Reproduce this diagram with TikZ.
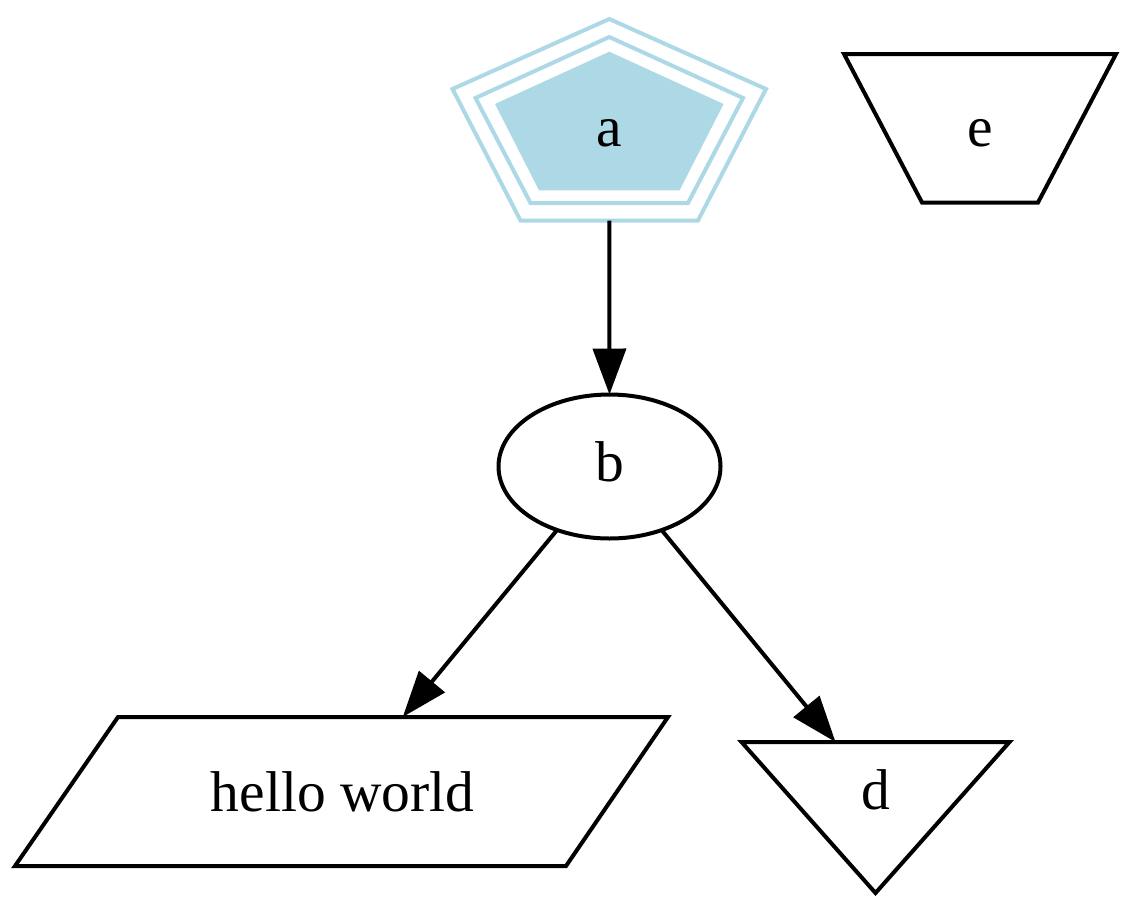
\documentclass[tikz,border=0pt]{standalone}
\usepackage{fontspec}
\setmainfont{Liberation Serif}
\usetikzlibrary{arrows.meta,shapes.geometric}
\definecolor{lblue}{RGB}{173,216,230}
\tikzset{
  shapeline/.style={draw=black, line width=4pt, line join=miter},
  periph/.style={draw=lblue, line width=4pt, line join=miter},
  box/.style={inner sep=0pt, outer sep=0pt, draw=none, rectangle},
  lbl/.style={anchor=base, inner sep=0pt, font=\fontsize{57.5}{60}\selectfont},
  edge/.style={draw=black, line width=4pt, -{Triangle[length=46pt,width=33pt]}}
}
\begin{document}
\begin{tikzpicture}[x=1pt,y=-1pt]
\useasboundingbox (0,0) rectangle (1134,913);
% node a (pentagon with peripheries)
\node[box, minimum width=317pt, minimum height=202pt] (a) at (609.3,119.5) {};
\fill[lblue] (609.3,51.7) -- (723.6,104) -- (679.6,190.3) -- (539,190.3) -- (495,104) -- cycle;
\draw[periph] (609.3,37) -- (743,98) -- (688,203) -- (530.5,203) -- (475.5,98) -- cycle;
\draw[periph] (609.3,19) -- (766,89) -- (698,220.5) -- (520.5,220.5) -- (452.5,89) -- cycle;
\node[lbl] (la) at (609.3,146) {a};
% node b (ellipse)
\node[ellipse, draw, line width=4pt, inner sep=0pt, outer sep=0pt, minimum width=222pt, minimum height=144pt] (b) at (609.5,466.5) {};
\node[lbl] (lb) at (609.5,481.7) {b};
% node hello world (parallelogram)
\node[box, minimum width=653pt, minimum height=149pt] (hw) at (341.5,791.5) {};
\draw[shapeline] (118,717) -- (668,717) -- (566,866) -- (15,866) -- cycle;
\node[lbl] (lhw) at (342.5,811) {hello world};
% node d (inverted triangle)
\node[box, minimum width=268pt, minimum height=98pt] (d) at (875.5,791) {};
\draw[shapeline] (741.5,742) -- (1009.5,742) -- (875.5,893) -- cycle;
\node[lbl] (ld) at (875.5,809.3) {d};
% node e (inverted trapezium)
\node[box, minimum width=272pt, minimum height=150pt] (e) at (980,128) {};
\draw[shapeline] (844,54) -- (1116,54) -- (1038,202.5) -- (922,202.5) -- cycle;
\node[lbl] (le) at (980,146) {e};
% edges
\draw[edge] (a) -- (b);
\draw[edge] (b) -- (hw);
\draw[edge] (b) -- (d);
\end{tikzpicture}
\end{document}
